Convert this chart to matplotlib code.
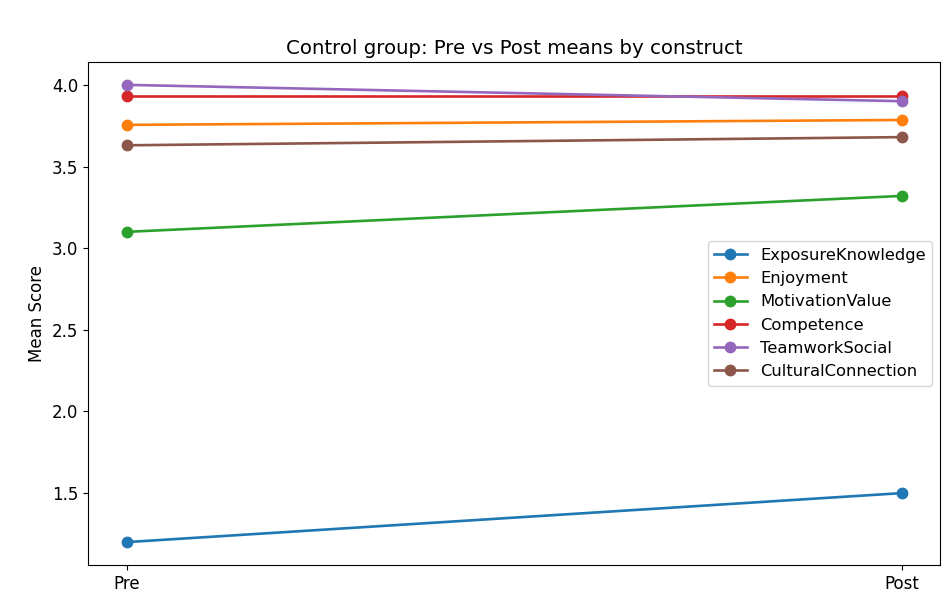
import matplotlib
matplotlib.use("Agg")
import matplotlib.pyplot as plt

phases = ["Pre", "Post"]
constructs = ["ExposureKnowledge", "Enjoyment", "MotivationValue",
              "Competence", "TeamworkSocial", "CulturalConnection"]
pre_means = [1.20, 3.755, 3.10, 3.93, 4.00, 3.63]
post_means = [1.50, 3.785, 3.32, 3.93, 3.90, 3.68]

fig = plt.figure(figsize=(9.47, 6.02), dpi=100)
ax = fig.add_axes([0.093, 0.0615, 0.900, 0.8355])
for name, a, b in zip(constructs, pre_means, post_means):
    ax.plot(phases, [a, b], marker="o", label=name, linewidth=1.9, markersize=7.5)
ax.set_title("Control group: Pre vs Post means by construct", fontsize=14.2)
ax.set_ylabel("Mean Score", fontsize=12)
ax.tick_params(labelsize=12)
ax.legend(loc="center right", fontsize=11.8)
fig.savefig("out.png", dpi=100)
